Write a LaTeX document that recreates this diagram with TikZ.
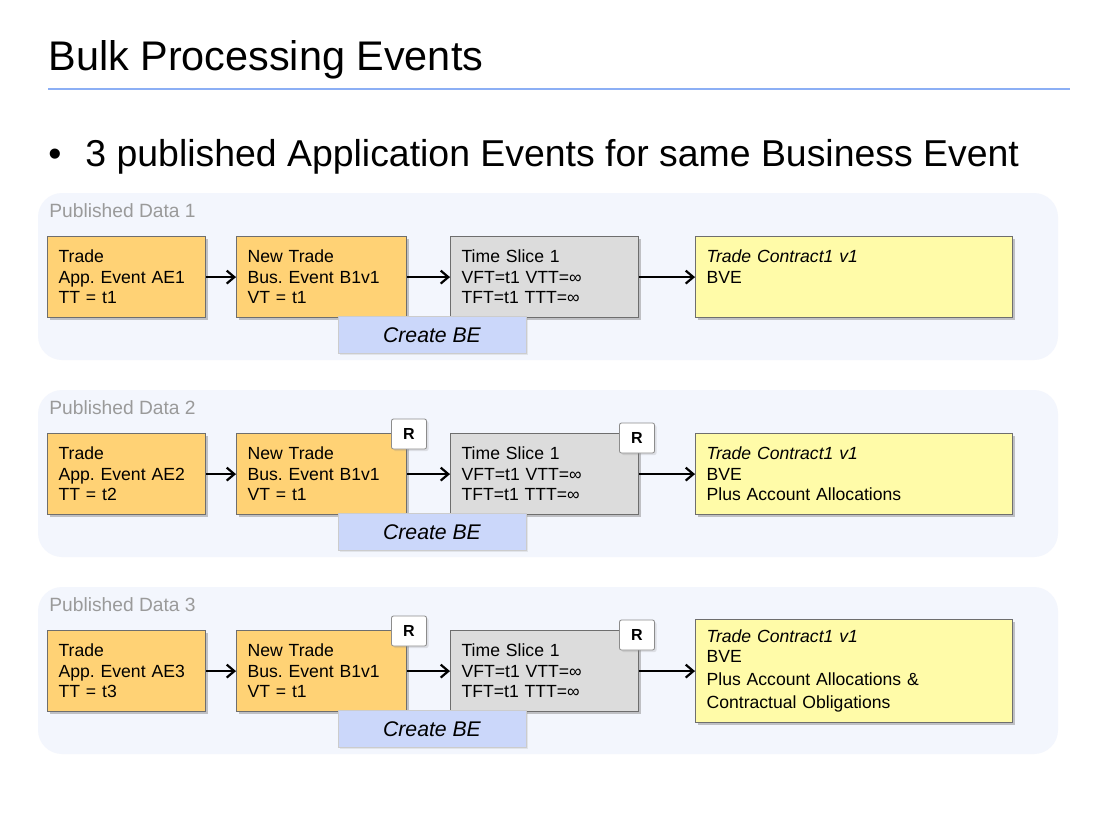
\documentclass[tikz,border=0pt]{standalone}
\usepackage{fontspec}
\setmainfont{Liberation Sans}
\frenchspacing
\usetikzlibrary{positioning,shadows,arrows.meta,calc}
\definecolor{evorange}{HTML}{FFD275}
\definecolor{evgray}{HTML}{DCDCDC}
\definecolor{evyellow}{HTML}{FFFBA8}
\definecolor{evblue}{HTML}{CBD7FA}
\definecolor{panelbg}{HTML}{F3F6FD}
\definecolor{titleline}{HTML}{8CAFF5}
\definecolor{boxline}{HTML}{6E6E6E}
\definecolor{labelgray}{HTML}{9A9A9A}
\tikzset{
	evbox/.style={draw=boxline, fill=#1, line width=0.6pt, align=left, inner xsep=5.5pt,
		font=\fontsize{8.8}{10.25}\selectfont,
		drop shadow={shadow xshift=1.3pt, shadow yshift=-1.3pt, opacity=0.45}},
	bebox/.style={draw=black!20, fill=evblue, minimum width=94pt, minimum height=18.5pt,
		font=\fontsize{10.6}{12}\selectfont\itshape,
		drop shadow={shadow xshift=1pt, shadow yshift=-1pt, opacity=0.15}},
	rbox/.style={draw=black!45, fill=white, rounded corners=1pt, minimum width=17.5pt, minimum height=15pt,
		font=\fontsize{8}{9}\selectfont\bfseries,
		drop shadow={shadow xshift=1pt, shadow yshift=-1pt, opacity=0.2}},
	flow/.style={-{Straight Barb[length=3.8pt,width=6.5pt]}, line width=1.1pt},
}
\begin{document}
\begin{tikzpicture}[x=0.5pt, y=-0.5pt]
	\useasboundingbox [fill=white] (0,0) rectangle (1109,831);
	\node [anchor=base west, inner sep=0pt, font=\fontsize{20.7}{24}\selectfont] (title) at (48,70) {Bulk Processing Events};
	\draw [titleline, line width=1.2pt] (48,89) -- (1070,89);
	\node [anchor=base west, inner sep=0pt, font=\fontsize{18.7}{22}\selectfont] (bullet) at (48,166) {•\hspace{12pt}3 published Application Events for same Business Event};
	\foreach \i/\dy/\tt/\dtext/\dh in {1/0/t1/{BVE\\\mbox{}}/40.5, 2/197/t2/{BVE\\Plus Account Allocations}/40.5, 3/394/t3/{BVE\\[1pt]Plus Account Allocations \&\\[1.5pt]Contractual Obligations}/51.5} {
		\fill [panelbg, rounded corners=12pt] (38,193+\dy) rectangle (1058,360+\dy);
		\node [anchor=base west, inner sep=0pt, text=labelgray, font=\fontsize{9.6}{11}\selectfont] (pd\i) at (49,217+\dy) {Published Data \i};
		\node [evbox=evorange, anchor=north west, text width=67.9pt, minimum height=40.5pt] (a\i) at (47,236+\dy) {Trade\\App. Event AE\i\\TT = \tt};
		\node [evbox=evorange, right=15pt of a\i, text width=73.9pt, minimum height=40.5pt] (b\i) {New Trade\\Bus. Event B1v1\\VT = t1};
		\node [evbox=evgray, right=21.5pt of b\i, text width=82.9pt, minimum height=40.5pt] (c\i) {Time Slice 1\\VFT=t1 VTT=∞\\TFT=t1 TTT=∞};
		\node [evbox=evyellow, right=28pt of c\i, text width=147.4pt, minimum height=\dh pt] (d\i) {\textit{Trade Contract1 v1}\\\dtext};
		\node [bebox] (be\i) at ($(b\i.south east)+(25,16.5)$) {Create BE};
		\draw [flow] (a\i) -- (b\i);
		\draw [flow] (b\i) -- (c\i);
		\draw [flow] (c\i) -- (d\i);
	}
	\foreach \i in {2,3} {
		\node [rbox] (rb\i) at ($(b\i.north east)+(2,1)$) {R};
		\node [rbox] (rc\i) at ($(c\i.north east)+(-2,5)$) {R};
	}
\end{tikzpicture}
\end{document}
